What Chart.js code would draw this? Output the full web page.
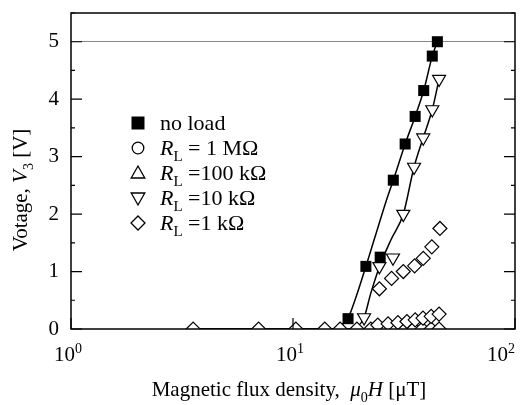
<!DOCTYPE html>
<html>
<head>
<meta charset="utf-8">
<script src="https://cdn.jsdelivr.net/npm/chart.js@4/dist/chart.umd.min.js"></script>
<style>
  body { margin: 0; background: #fff; }
  #wrap { width: 529px; height: 405px; }
</style>
</head>
<body>
<div id="wrap"><canvas id="chart" width="529" height="405"></canvas></div>
<script>
// field H [uT] and voltage V3 [V]
const noLoadH = [17.7, 21.3, 24.7, 28.3, 32.0, 35.5, 38.8, 42.4, 44.7];
const noLoadV = [0.18, 1.09, 1.25, 2.59, 3.22, 3.70, 4.15, 4.75, 5.00];
const tenKH = [20.9, 24.5, 28.2, 31.4, 35.1, 38.6, 42.4, 45.5];
const tenKV = [0.20, 1.09, 1.24, 2.00, 2.82, 3.33, 3.82, 4.35];
const oneKH = [24.5, 27.8, 31.4, 35.3, 38.6, 42.2, 45.9];
const oneKV = [0.70, 0.88, 1.00, 1.10, 1.23, 1.43, 1.75];
const lowRowH = [24.1, 26.8, 29.7, 32.6, 35.5, 38.5, 41.9, 45.5];
const lowRowV = [0.07, 0.09, 0.11, 0.13, 0.16, 0.19, 0.22, 0.26];
const zeroRowH = [3.55, 7.0, 10.3, 13.9, 16.3, 19.4, 22.4, 25.5, 28.5, 31.6, 34.9, 38.2, 41.9, 45.5];
const zeroRowV = [0, 0, 0, 0, 0, 0, 0, 0, 0, 0, 0, 0, 0, 0];

// fitted curves drawn through the data
const noLoadFitH = [3.55, 14.7, 16.3, 17.7, 19.4, 21.3, 23.4, 26.4, 28.3, 32.0, 35.5, 38.8, 42.4, 44.7];
const noLoadFitV = [0, 0, 0.05, 0.19, 0.60, 1.09, 1.60, 2.25, 2.59, 3.22, 3.70, 4.15, 4.75, 5.00];
const tenKFitH = [3.55, 18.1, 19.4, 20.9, 22.4, 24.5, 27.6, 31.4, 35.1, 38.6, 42.4, 45.5];
const tenKFitV = [0, 0, 0.03, 0.20, 0.62, 1.08, 1.55, 2.00, 2.82, 3.33, 3.82, 4.35];

const yTicks = [0, 1, 2, 3, 4, 5];
const xDecades = [1, 10, 100];
const xExponents = ['0', '1', '2'];
const refLine = 5;

const legendItems = [
  { marker: 'square', parts: [['no load', '']] },
  { marker: 'circle', parts: [['R', 'i'], ['L', 's'], [' = 1 M\u03a9', '']] },
  { marker: 'up', parts: [['R', 'i'], ['L', 's'], [' =100 k\u03a9', '']] },
  { marker: 'down', parts: [['R', 'i'], ['L', 's'], [' =10 k\u03a9', '']] },
  { marker: 'diamond', parts: [['R', 'i'], ['L', 's'], [' =1 k\u03a9', '']] }
];

const FONT = '"Liberation Serif", "Times New Roman", serif';
const pts = (xs, ys) => xs.map((x, i) => ({ x: x, y: ys[i] }));
const clipBox = { left: 12, right: 12, top: 12, bottom: 0 };

const openMarker = (style, r, rot) => ({
  pointStyle: style, pointRadius: r, pointHoverRadius: r, pointRotation: rot || 0,
  pointBackgroundColor: '#fff', pointBorderColor: '#000', pointBorderWidth: 1.2,
  showLine: false, clip: clipBox
});

// draws a run of text pieces: '' normal, 'i' italic, 's' subscript, 'u' superscript
function richText(ctx, parts, x, y, align, size) {
  const small = p => p[1] === 's' || p[1] === 'u';
  const fontOf = p => (p[1] === 'i' ? 'italic ' : '') + (small(p) ? Math.round(size * 0.66) : size) + 'px ' + FONT;
  let total = 0;
  parts.forEach(p => { ctx.font = fontOf(p); total += ctx.measureText(p[0]).width; });
  let cx = x;
  if (align === 'center') cx = x - total / 2;
  if (align === 'right') cx = x - total;
  ctx.textAlign = 'left';
  ctx.textBaseline = 'alphabetic';
  parts.forEach(p => {
    ctx.font = fontOf(p);
    const dy = p[1] === 's' ? size * 0.28 : p[1] === 'u' ? -size * 0.38 : 0;
    ctx.fillText(p[0], cx, y + dy);
    cx += ctx.measureText(p[0]).width;
  });
}

function marker(ctx, kind, x, y) {
  ctx.beginPath();
  ctx.lineWidth = 1.3;
  ctx.strokeStyle = '#000';
  ctx.fillStyle = '#fff';
  if (kind === 'square') {
    ctx.fillStyle = '#000';
    ctx.rect(x - 6.5, y - 6.5, 13, 13);
    ctx.fill();
    return;
  }
  if (kind === 'circle') ctx.arc(x, y, 5.8, 0, Math.PI * 2);
  if (kind === 'up') { ctx.moveTo(x, y - 7); ctx.lineTo(x + 6.8, y + 5); ctx.lineTo(x - 6.8, y + 5); ctx.closePath(); }
  if (kind === 'down') { ctx.moveTo(x, y + 7); ctx.lineTo(x + 6.8, y - 5); ctx.lineTo(x - 6.8, y - 5); ctx.closePath(); }
  if (kind === 'diamond') { ctx.moveTo(x, y - 7); ctx.lineTo(x + 7, y); ctx.lineTo(x, y + 7); ctx.lineTo(x - 7, y); ctx.closePath(); }
  ctx.fill();
  ctx.stroke();
}

const framePlugin = {
  id: 'frame',
  afterDraw(chart) {
    const ctx = chart.ctx;
    const a = chart.chartArea;
    const xs = chart.scales.x, ys = chart.scales.y;
    ctx.save();
    ctx.strokeStyle = '#000';
    ctx.lineWidth = 1.5;
    ctx.strokeRect(a.left, a.top, a.right - a.left, a.bottom - a.top);
    // inward ticks
    ctx.lineWidth = 1.2;
    ctx.beginPath();
    ys.ticks.forEach(t => {
      const py = ys.getPixelForValue(t.value);
      const len = Number.isInteger(t.value) ? 11 : 4;
      ctx.moveTo(a.left, py); ctx.lineTo(a.left + len, py);
      ctx.moveTo(a.right, py); ctx.lineTo(a.right - len, py);
    });
    xDecades.forEach(v => {
      const px = xs.getPixelForValue(v);
      ctx.moveTo(px, a.bottom); ctx.lineTo(px, a.bottom - 11);
    });
    ctx.stroke();

    ctx.fillStyle = '#000';
    // x tick labels: 10 with superscript exponent
    xDecades.forEach((v, i) => {
      const px = xs.getPixelForValue(v);
      const last = i === xDecades.length - 1;
      richText(ctx, [['10', ''], [xExponents[i], 'u']], last ? px : px - 3, a.bottom + 32, last ? 'right' : 'center', 21);
    });

    // axis titles
    richText(ctx, [['Magnetic flux density,  ', ''], ['\u03bc', 'i'], ['0', 's'], ['H', 'i'], [' [\u03bcT]', '']],
      (a.left + a.right) / 2 - 4, 396, 'center', 21);
    ctx.save();
    ctx.translate(27, 190);
    ctx.rotate(-Math.PI / 2);
    richText(ctx, [['Votage, ', ''], ['V', 'i'], ['3', 's'], [' [V]', '']], 0, 0, 'center', 21);
    ctx.restore();

    // legend
    legendItems.forEach((item, i) => {
      const cy = 123 + i * 25;
      marker(ctx, item.marker, 138, cy);
      ctx.fillStyle = '#000';
      richText(ctx, item.parts, 160, cy + 7, 'left', 22);
    });
    ctx.restore();
  }
};

new Chart(document.getElementById('chart'), {
  type: 'scatter',
  data: {
    datasets: [
      {
        label: 'no load', data: pts(noLoadH, noLoadV), showLine: false, clip: clipBox,
        pointStyle: 'rect', pointRadius: 7.8, pointHoverRadius: 7.8,
        pointBackgroundColor: '#000', pointBorderColor: '#000', pointBorderWidth: 0
      },
      Object.assign({ label: 'RL=10k', data: pts(tenKH, tenKV) }, openMarker('triangle', 7.5, 180)),
      Object.assign({ label: 'RL=1k', data: pts(oneKH, oneKV) }, openMarker('rectRot', 7)),
      Object.assign({ label: 'low', data: pts(lowRowH, lowRowV) }, openMarker('rectRot', 7)),
      Object.assign({ label: 'zero', data: pts(zeroRowH, zeroRowV) }, openMarker('rectRot', 7)),
      {
        label: 'no load fit', data: pts(noLoadFitH, noLoadFitV), showLine: true, clip: clipBox,
        borderColor: '#000', borderWidth: 1.5, pointRadius: 0, cubicInterpolationMode: 'monotone'
      },
      {
        label: '10k fit', data: pts(tenKFitH, tenKFitV), showLine: true, clip: clipBox,
        borderColor: '#000', borderWidth: 1.5, pointRadius: 0, cubicInterpolationMode: 'monotone'
      }
    ]
  },
  options: {
    responsive: false,
    animation: false,
    layout: { padding: { top: 13, right: 14, left: 0, bottom: 0 } },
    plugins: { legend: { display: false }, tooltip: { enabled: false } },
    scales: {
      x: {
        type: 'logarithmic',
        min: 1,
        max: 100,
        afterFit: s => { s.height = 76; s.paddingLeft = 0; s.paddingRight = 0; },
        grid: { display: false },
        border: { display: false },
        ticks: { display: false }
      },
      y: {
        min: 0,
        max: 5.5,
        afterFit: s => { s.width = 71; s.paddingTop = 0; s.paddingBottom = 0; },
        border: { display: false },
        grid: {
          drawTicks: false,
          lineWidth: 1,
          color: c => (c.tick && c.tick.value === refLine ? '#8a8a8a' : 'rgba(0,0,0,0)')
        },
        ticks: {
          stepSize: 0.5,
          padding: 12,
          color: '#000',
          font: { family: FONT, size: 21 },
          callback: v => (yTicks.includes(v) ? String(v) : '')
        }
      }
    }
  },
  plugins: [framePlugin]
});
</script>
</body>
</html>
